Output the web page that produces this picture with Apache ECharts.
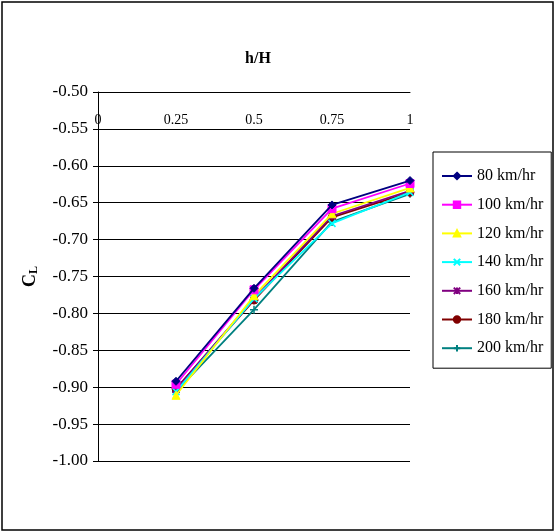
<!DOCTYPE html>
<html>
<head>
<meta charset="utf-8">
<script src="https://cdn.jsdelivr.net/npm/echarts@6/dist/echarts.min.js"></script>
<style>
  html, body { margin: 0; padding: 0; background: #fff; }
  #main { width: 555px; height: 532px; }
</style>
</head>
<body>
<div id="main"></div>
<script>
var chartDom = document.getElementById('main');
var myChart = echarts.init(chartDom);
var option;

// h/H positions
var hH = [0.25, 0.5, 0.75, 1];

var seriesNames = ['80 km/hr', '100 km/hr', '120 km/hr', '140 km/hr', '160 km/hr', '180 km/hr', '200 km/hr'];
var cl80 = [-0.892, -0.766, -0.653, -0.620];
var cl100 = [-0.896, -0.768, -0.658, -0.624];
var cl120 = [-0.911, -0.776, -0.665, -0.630];
var cl140 = [-0.906, -0.780, -0.678, -0.636];
var cl160 = [-0.903, -0.780, -0.668, -0.634];
var cl180 = [-0.902, -0.782, -0.670, -0.636];
var cl200 = [-0.906, -0.795, -0.676, -0.638];
var allValues = [cl80, cl100, cl120, cl140, cl160, cl180, cl200];

var colors = ['#000080', '#ff00ff', '#ffff00', '#00ffff', '#800080', '#800000', '#008080'];
var xPath = 'path://M0,0L10,10M10,0L0,10';
var starPath = 'path://M0,0L10,10M10,0L0,10M5,0L5,10';
var plusPath = 'path://M5,0L5,10M0,5L10,5';
var symbols = ['diamond', 'rect', 'triangle', xPath, starPath, 'circle', plusPath];
var sizes = [8, 8, 8, 7, 7, 8, 8];

var font = 'Liberation Serif';

function pairs(vals) {
  return hH.map(function (x, i) { return [x, vals[i]]; });
}

var series = seriesNames.map(function (name, k) {
  var stroke = symbols[k].indexOf('path://') === 0;
  return {
    name: name,
    type: 'line',
    data: pairs(allValues[k]),
    symbol: symbols[k],
    symbolSize: sizes[k],
    showAllSymbol: true,
    lineStyle: { color: colors[k], width: 1.8 },
    itemStyle: stroke
      ? { color: 'transparent', borderColor: colors[k], borderWidth: 1.5 }
      : { color: colors[k], borderColor: colors[k], borderWidth: 1 },
    emphasis: { disabled: true },
    z: 10 - k
  };
});

option = {
  animation: false,
  backgroundColor: '#fff',
  textStyle: { fontFamily: font, color: '#000' },
  graphic: [{
    type: 'rect',
    shape: { x: 2, y: 2, width: 551, height: 528 },
    style: { fill: 'none', stroke: '#000', lineWidth: 1.5 },
    silent: true
  }],
  title: {
    text: 'h/H',
    left: 253,
    top: 46,
    textAlign: 'center',
    textStyle: { fontFamily: font, fontSize: 16, fontWeight: 'bold', color: '#000' }
  },
  legend: {
    data: seriesNames,
    orient: 'vertical',
    left: 433,
    top: 152,
    width: 120,
    padding: [16, 8, 12, 8],
    itemGap: 12.7,
    itemWidth: 30,
    itemHeight: 8,
    borderColor: '#000',
    borderWidth: 1,
    textStyle: { fontFamily: font, fontSize: 16, color: '#000' }
  },
  grid: {
    left: 98,
    right: 145,
    top: 92,
    bottom: 71
  },
  xAxis: {
    type: 'value',
    position: 'top',
    min: 0,
    max: 1,
    interval: 0.25,
    axisLine: { show: true, lineStyle: { color: '#000', width: 1 } },
    axisTick: { show: false },
    splitLine: { show: false },
    axisLabel: {
      inside: true,
      margin: 21,
      fontFamily: font,
      fontSize: 14,
      color: '#000',
      formatter: function (v) { return String(v); }
    }
  },
  yAxis: {
    type: 'value',
    min: -1,
    max: -0.5,
    interval: 0.05,
    name: '{c|C}{l|L}',
    nameLocation: 'middle',
    nameRotate: 90,
    nameGap: 58,
    nameTextStyle: {
      rich: {
        c: { fontFamily: font, fontSize: 18, fontWeight: 'bold', color: '#000' },
        l: { fontFamily: font, fontSize: 12, fontWeight: 'bold', color: '#000', verticalAlign: 'bottom', padding: [8, 0, 0, 0] }
      }
    },
    axisLine: { show: true, lineStyle: { color: '#000', width: 1 } },
    axisTick: { show: true, length: 5, lineStyle: { color: '#000' } },
    splitLine: { show: true, lineStyle: { color: '#000', width: 1 } },
    axisLabel: {
      margin: 10,
      fontFamily: font,
      fontSize: 17,
      color: '#000',
      formatter: function (v) { return v.toFixed(2); }
    }
  },
  series: series
};

option && myChart.setOption(option);
</script>
</body>
</html>
